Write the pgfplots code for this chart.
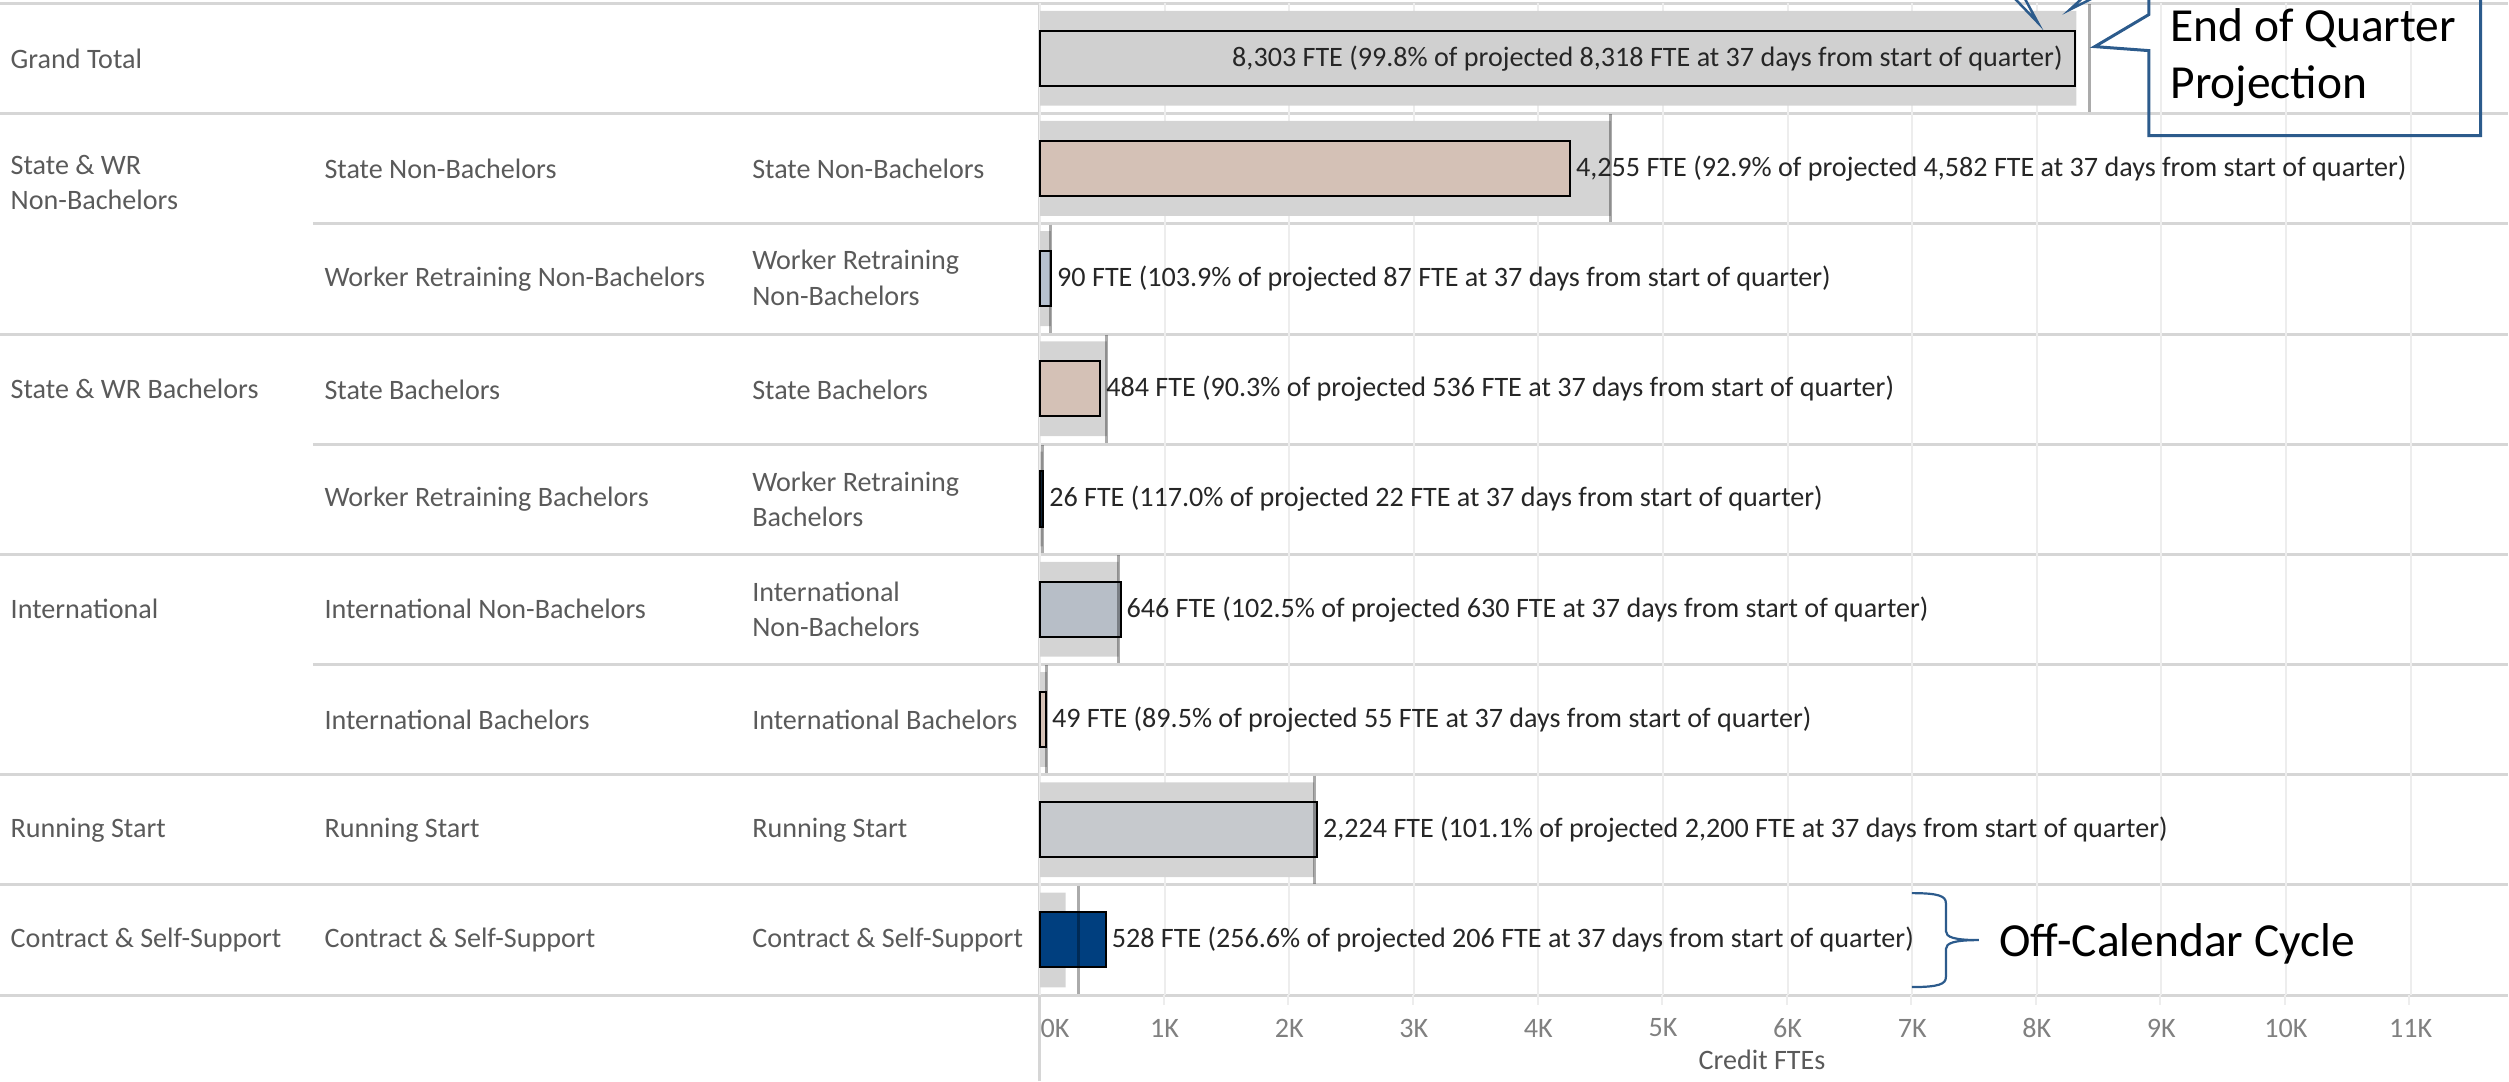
\documentclass[border=0pt]{standalone}
\usepackage{pgfplots}
\pgfplotsset{compat=1.18}
\usepackage{fontspec}
\setmainfont{Carlito}
\definecolor{band}{HTML}{D4D4D4}
\definecolor{sep}{HTML}{D6D6D6}
\definecolor{gridc}{HTML}{EDEDED}
\definecolor{hdr}{HTML}{5A5A5A}
\definecolor{lbl}{HTML}{262626}
\definecolor{tickc}{HTML}{808080}
\definecolor{tanc}{HTML}{D4C1B6}
\definecolor{bluegray}{HTML}{B6C1CF}
\definecolor{slate}{HTML}{B7BEC7}
\definecolor{lgray}{HTML}{C6C9CD}
\definecolor{gtgray}{HTML}{D0D0D0}
\definecolor{navy}{HTML}{003F7F}
\definecolor{dnavy}{HTML}{14324F}
\definecolor{callout}{HTML}{2C5B8C}
\pgfplotsset{
  mybar/.style={xbar, bar width=0.5, bar shift=0pt, draw=black, line width=0.02cm},
  lblR/.style={point meta=explicit symbolic, nodes near coords,
    every node near coord/.append style={anchor=west, inner sep=0pt, xshift=0.05cm,
      font=\fontsize{8}{9.6}\selectfont, text=lbl}},
}
\begin{document}
\begin{tikzpicture}
\begin{scope}[x=0.01cm,y=0.01cm]
% row separators
\foreach \yy in {3,113.2,333.7,554.1,774.5,884.8,995}
  \draw[sep, line width=0.03cm] (0,1081-\yy) -- (2509,1081-\yy);
\foreach \yy in {223.4,443.9,664.3}
  \draw[sep, line width=0.03cm] (313,1081-\yy) -- (2509,1081-\yy);
\draw[sep, line width=0.025cm] (1040,0) -- (1040,1081-3);
\end{scope}

\begin{axis}[
  at={(10.40cm,0.86cm)}, anchor=south west,
  width=14.69cm, height=9.92cm, scale only axis,
  xmin=0, xmax=11790, ymin=0, ymax=9, y dir=reverse,
  axis line style={draw=none},
  ytick=\empty,
  scaled x ticks=false,
  xtick={0,1000,2000,3000,4000,5000,6000,7000,8000,9000,10000,11000},
  xticklabels={\hspace*{0.3cm}0K,1K,2K,3K,4K,5K,6K,7K,8K,9K,10K,11K},
  major tick length=0pt,
  xmajorgrids, grid style={draw=gridc, line width=0.02cm},
  xticklabel style={font=\fontsize{8}{9.6}\selectfont, text=tickc, anchor=center, yshift=-0.33cm},
  clip=false,
]
% projection bands
\addplot[xbar, bar width=0.86, bar shift=0pt, fill=band, draw=none]
  coordinates {(8318,0.5) (4582,1.5) (87,2.5) (536,3.5) (22,4.5) (630,5.5) (55,6.5) (2200,7.5) (206,8.5)};
% actual bars
\addplot[mybar, fill=gtgray, point meta=explicit symbolic, nodes near coords,
  every node near coord/.append style={anchor=east, inner sep=0pt, xshift=-0.11cm,
      font=\fontsize{8}{9.6}\selectfont, text=lbl}]
  coordinates {(8303,0.5) [8,303 FTE (99.8\% of projected 8,318 FTE at 37 days from start of quarter)]};
\addplot[mybar, fill=tanc, lblR]
  coordinates {(4255,1.5) [4,255 FTE (92.9\% of projected 4,582 FTE at 37 days from start of quarter)]};
\addplot[mybar, fill=bluegray, lblR]
  coordinates {(90,2.5) [90 FTE (103.9\% of projected 87 FTE at 37 days from start of quarter)]};
\addplot[mybar, fill=tanc, lblR]
  coordinates {(484,3.5) [484 FTE (90.3\% of projected 536 FTE at 37 days from start of quarter)]};
\addplot[mybar, fill=dnavy, lblR]
  coordinates {(26,4.5) [26 FTE (117.0\% of projected 22 FTE at 37 days from start of quarter)]};
\addplot[mybar, fill=slate, lblR]
  coordinates {(646,5.5) [646 FTE (102.5\% of projected 630 FTE at 37 days from start of quarter)]};
\addplot[mybar, fill=tanc, lblR]
  coordinates {(49,6.5) [49 FTE (89.5\% of projected 55 FTE at 37 days from start of quarter)]};
\addplot[mybar, fill=lgray, lblR]
  coordinates {(2224,7.5) [2,224 FTE (101.1\% of projected 2,200 FTE at 37 days from start of quarter)]};
\addplot[mybar, fill=navy, lblR]
  coordinates {(528,8.5) [528 FTE (256.6\% of projected 206 FTE at 37 days from start of quarter)]};
% reference lines
\addplot[only marks, mark=|, mark size=0.54cm, mark options={draw=black, draw opacity=0.33, line width=0.03cm}]
  coordinates {(8420,0.5) (4582,1.5) (87,2.5) (536,3.5) (22,4.5) (630,5.5) (55,6.5) (2200,7.5) (305,8.5)};
\end{axis}

\begin{scope}[x=0.01cm,y=0.01cm]
% short grid extensions below the last row
\foreach \k in {1,...,11}
  \draw[gridc, line width=0.02cm] (1040+124.6*\k,1081-995) -- (1040+124.6*\k,1081-1005);
% row headers
\begin{scope}[every node/.style={anchor=west, inner sep=0pt, text=hdr, align=left,
   font=\fontsize{8}{10.2}\selectfont}]
\node at (10,1081-58) {Grand Total};
\node at (10,1081-182) {State \& WR\\Non-Bachelors};
\node at (10,1081-388) {State \& WR Bachelors};
\node at (10,1081-609) {International};
\node at (10,1081-830) {Running Start};
\node at (10,1081-940) {Contract \& Self-Support};

\node at (324,1081-168) {State Non-Bachelors};
\node at (324,1081-278.5) {Worker Retraining Non-Bachelors};
\node at (324,1081-389) {State Bachelors};
\node at (324,1081-499) {Worker Retraining Bachelors};
\node at (324,1081-609) {International Non-Bachelors};
\node at (324,1081-719.4) {International Bachelors};
\node at (324,1081-830) {Running Start};
\node at (324,1081-940) {Contract \& Self-Support};

\node at (752,1081-168) {State Non-Bachelors};
\node at (752,1081-277) {Worker Retraining\\Non-Bachelors};
\node at (752,1081-499) {Worker Retraining\\Bachelors};
\node at (752,1081-389) {State Bachelors};
\node at (752,1081-609) {International\\Non-Bachelors};
\node at (752,1081-719.4) {International Bachelors};
\node at (752,1081-830) {Running Start};
\node at (752,1081-940) {Contract \& Self-Support};
\end{scope}
\node[inner sep=0pt, text=hdr, font=\fontsize{8}{9.6}\selectfont] at (1763,1081-1060) {Credit FTEs};

% callout
\draw[callout, line width=0.03cm] (2150,1081+5) -- (2150,1081-14) -- (2096,1081-46) -- (2150,1081-50)
  -- (2150,1081-135) -- (2482,1081-135) -- (2482,1081+5);
\draw[callout, line width=0.025cm] (2016,1081+2) -- (2039,1081-22) -- (2026,1081+2);
\draw[callout, line width=0.025cm] (2083,1081+2) -- (2071,1081-9) -- (2093,1081+2);
\node[anchor=west, inner sep=0pt, align=left, font=\fontsize{13.5}{16.2}\selectfont] at (2171,1081-57)
  {End of Quarter\\Projection};

% brace
\draw[callout, line width=0.022cm] (1913,1081-893) .. controls (1940,1081-893) and (1947,1081-896) .. (1947,1081-903)
  -- (1947,1081-931) .. controls (1947,1081-937) and (1955,1081-940) .. (1980,1081-940)
  .. controls (1955,1081-940) and (1947,1081-943) .. (1947,1081-949)
  -- (1947,1081-977) .. controls (1947,1081-984) and (1940,1081-987) .. (1913,1081-987);
\node[anchor=west, inner sep=0pt, font=\fontsize{13.5}{16.2}\selectfont] at (2000,1081-944) {Off-Calendar Cycle};
\end{scope}
\pgfresetboundingbox
\path[use as bounding box] (0,0) rectangle (25.09cm,10.81cm);
\end{tikzpicture}
\end{document}
